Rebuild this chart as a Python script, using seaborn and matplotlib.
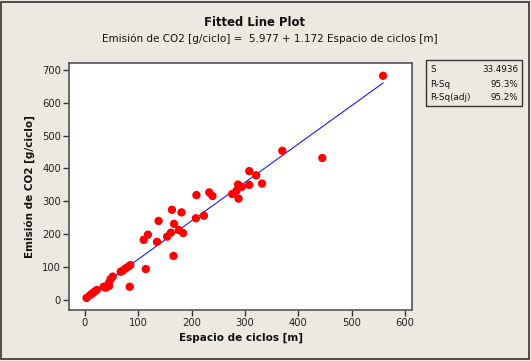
import matplotlib
matplotlib.use("Agg")
import matplotlib.pyplot as plt
import seaborn as sns
import pandas as pd
import numpy as np
from matplotlib.patches import Rectangle

# ---- data ----
espacio = [3, 10, 14, 18, 22, 35, 39, 45, 45, 48, 52, 67, 71, 76, 81, 85, 84,
           114, 110, 118, 135, 138, 154, 161, 163, 167, 166, 176, 181, 184,
           208, 209, 223, 233, 239, 276, 284, 287, 288, 294, 308, 308, 321,
           332, 370, 445, 559]
emision = [5, 14, 19, 24, 29, 39, 36, 41, 51, 62, 70, 85, 88, 95, 100, 105, 39,
           93, 182, 198, 176, 240, 192, 204, 274, 231, 133, 212, 266, 203,
           248, 319, 256, 327, 316, 322, 332, 351, 308, 344, 350, 392, 379,
           354, 454, 432, 683]
intercept = 5.977
slope = 1.172
x_ticks = [0, 100, 200, 300, 400, 500, 600]
y_ticks = [0, 100, 200, 300, 400, 500, 600, 700]
stats_labels = ["S", "R-Sq", "R-Sq(adj)"]
stats_values = ["33.4936", "95.3%", "95.2%"]

BG = "#ECE9E0"
W, H = 531, 361

sns.set_theme(style="white")
plt.rcParams["font.family"] = ["DejaVu Sans"]

fig = plt.figure(figsize=(W / 100, H / 100), dpi=100, facecolor=BG)
ax = fig.add_axes([69.3 / W, 1 - 310 / H, (412.3 - 69.3) / W, (310 - 62.7) / H])
ax.set_facecolor("white")

df = pd.DataFrame({"x": espacio, "y": emision})
xl = np.array([min(espacio), max(espacio)], dtype=float)
line_df = pd.DataFrame({"x": xl, "y": intercept + slope * xl})

sns.lineplot(data=line_df, x="x", y="y", ax=ax, color="#1a1aff", lw=0.8)
sns.scatterplot(data=df, x="x", y="y", ax=ax, color="#ff0000", s=36,
                edgecolor="none", zorder=3)

ax.set_xlim(-29.4, 613.7)
ax.set_ylim(-32, 723)
ax.set_xticks(x_ticks)
ax.set_yticks(y_ticks)
ax.tick_params(axis="both", direction="out", length=4, width=1,
               color="#333333", labelsize=7.2, labelcolor="#222222", pad=2,
               bottom=True, left=True)
for s in ax.spines.values():
    s.set_color("#555555")
    s.set_linewidth(1.2)

ax.set_xlabel("Espacio de ciclos [m]", fontsize=7.5, fontweight="bold",
              color="#111111", labelpad=3)
ax.set_ylabel("Emisión de CO2 [g/ciclo]", fontsize=7.5, fontweight="bold",
              color="#111111", labelpad=5)

fig.text(255 / W, 1 - 22 / H, "Fitted Line Plot", ha="center", va="center",
         fontsize=8.4, fontweight="bold", color="#111111")
fig.text(270 / W, 1 - 39 / H,
         "Emisión de CO2 [g/ciclo] =  5.977 + 1.172 Espacio de ciclos [m]",
         ha="center", va="center", fontsize=7.5, color="#111111")

# stats box
fig.add_artist(Rectangle((426 / W, 1 - 106 / H), (522 - 426) / W, (106 - 60) / H,
                         transform=fig.transFigure, fill=False,
                         edgecolor="#333333", lw=1.0))
row_y = [70, 84.5, 98]
for lab, val, yy in zip(stats_labels, stats_values, row_y):
    fig.text(430 / W, 1 - yy / H, lab, ha="left", va="center", fontsize=6.3,
             color="#111111")
    fig.text(518 / W, 1 - yy / H, val, ha="right", va="center", fontsize=6.3,
             color="#111111")

# outer frame
fig.add_artist(Rectangle((0.5 / W, 2 / H), (W - 2.5) / W, (H - 3.5) / H,
                         transform=fig.transFigure, fill=False,
                         edgecolor="#333333", lw=1.2))

fig.savefig("out.png", dpi=100, facecolor=BG)
